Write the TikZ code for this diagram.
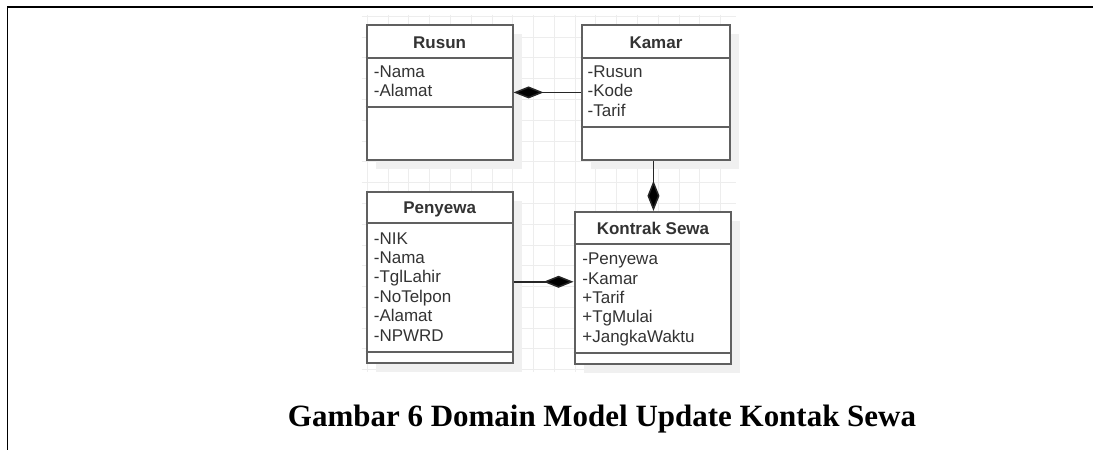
\documentclass[tikz,border=0pt]{standalone}
\usepackage{fontspec}
\setmainfont{Liberation Serif}
\newfontfamily\umlfont{Liberation Sans}
\usetikzlibrary{arrows.meta}
\definecolor{boxline}{HTML}{606060}
\definecolor{txt}{HTML}{333333}
\definecolor{gridc}{HTML}{EDEDED}
\definecolor{shadowc}{HTML}{F0F0F0}
\begin{document}
\begin{tikzpicture}[x=1pt,y=-1pt,
 classbox/.style={draw=boxline, line width=2pt, fill=white, inner sep=0pt},
 sepline/.style={draw=boxline, line width=2pt},
 hdr/.style={font=\umlfont\bfseries\fontsize{17}{19.4}\selectfont, text=txt, anchor=base, inner sep=0pt},
 attr/.style={font=\umlfont\fontsize{17}{19.4}\selectfont, text=txt, anchor=base west, inner sep=0pt},
 comp/.style={draw=black!85, line width=1.5pt, -{Diamond[length=30pt,width=12pt,fill=black]}},
 frameline/.style={line width=1.8pt, black},
 caption/.style={font=\bfseries\fontsize{31}{36}\selectfont, anchor=base, inner sep=0pt}]
\fill[white] (0,0) rectangle (1094,450);
% grid
\begin{scope}
\clip (362,15) rectangle (737,372);
\foreach \i in {0,...,17} \draw[gridc, line width=1pt] (367.6+20.8*\i,15) -- (367.6+20.8*\i,372);
\foreach \j in {0,...,17} \draw[gridc, line width=1pt] (362,16.4+20.8*\j) -- (737,16.4+20.8*\j);
\end{scope}
% shadows
\fill[shadowc] (376,34) rectangle (522,169);
\fill[shadowc] (591,34) rectangle (740,169);
\fill[shadowc] (376,201) rectangle (522,372);
\fill[shadowc] (584,221) rectangle (741,373);
% boxes
\node[classbox, minimum width=146pt, minimum height=135pt] (rusun) at (440,92.5) {};
\node[classbox, minimum width=149pt, minimum height=135pt] (kamar) at (656.5,92.5) {};
\node[classbox, minimum width=146pt, minimum height=171pt] (penyewa) at (440,277.5) {};
\node[classbox, minimum width=157pt, minimum height=152pt] (kontrak) at (653.5,288) {};
% separators
\draw[sepline] (rusun.west |- 0,58) -- (rusun.east |- 0,58);
\draw[sepline] (rusun.west |- 0,107) -- (rusun.east |- 0,107);
\draw[sepline] (kamar.west |- 0,58) -- (kamar.east |- 0,58);
\draw[sepline] (kamar.west |- 0,127) -- (kamar.east |- 0,127);
\draw[sepline] (penyewa.west |- 0,223) -- (penyewa.east |- 0,223);
\draw[sepline] (penyewa.west |- 0,352) -- (penyewa.east |- 0,352);
\draw[sepline] (kontrak.west |- 0,244) -- (kontrak.east |- 0,244);
\draw[sepline] (kontrak.west |- 0,353) -- (kontrak.east |- 0,353);
% headers
\node[hdr] (hrusun) at (440,48.3) {Rusun};
\node[hdr] (hkamar) at (656.5,48.3) {Kamar};
\node[hdr] (hpenyewa) at (440,214) {Penyewa};
\node[hdr] (hkontrak) at (653.5,235) {Kontrak Sewa};
% attributes
\node[attr] (r1) at (374,77.7) {-Nama};
\node[attr] (r2) at (374,97) {-Alamat};
\node[attr] (k1) at (588,77.7) {-Rusun};
\node[attr] (k2) at (588,97) {-Kode};
\node[attr] (k3) at (588,116.4) {-Tarif};
\node[attr] (p1) at (374,244.3) {-NIK};
\node[attr] (p2) at (374,263.7) {-Nama};
\node[attr] (p3) at (374,283.1) {-TglLahir};
\node[attr] (p4) at (374,302.5) {-NoTelpon};
\node[attr] (p5) at (374,321.9) {-Alamat};
\node[attr] (p6) at (374,341.3) {-NPWRD};
\node[attr] (s1) at (582.7,265) {-Penyewa};
\node[attr] (s2) at (582.7,284.4) {-Kamar};
\node[attr] (s3) at (582.7,303.8) {+Tarif};
\node[attr] (s4) at (582.7,323.2) {+TgMulai};
\node[attr] (s5) at (582.7,342.6) {+JangkaWaktu};
% connectors
\draw[comp] (kamar.west) -- (rusun.east);
\draw[comp] ([xshift=-2.5pt]kamar.south) -- ([xshift=-2.5pt]kamar.south |- kontrak.north);
\draw[comp] ([yshift=-4.5pt]penyewa.east) -- ([yshift=-4.5pt]penyewa.east -| kontrak.west);
% frame
\draw[frameline] (7.5,450) -- (7.5,7) -- (1094,7);
% caption
\node[caption] (cap) at (602.5,427) {Gambar 6 Domain Model Update Kontak Sewa};
\end{tikzpicture}
\end{document}
